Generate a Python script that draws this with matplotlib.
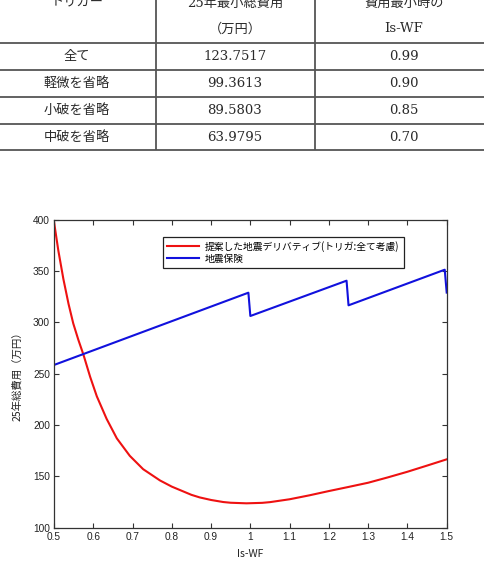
import matplotlib
matplotlib.use("Agg")
import matplotlib.pyplot as plt
from matplotlib.lines import Line2D

# ---------------- data ----------------
table_header = ["トリガー", "25年最小総費用\n（万円）", "費用最小時の\nIs-WF"]
table_triggers = ["全て", "軽微を省略", "小破を省略", "中破を省略"]
table_min_cost = ["123.7517", "99.3613", "89.5803", "63.9795"]
table_min_iswf = ["0.99", "0.90", "0.85", "0.70"]

deriv_x = [0.50, 0.511, 0.524, 0.537, 0.549, 0.562, 0.575, 0.592, 0.609, 0.634,
           0.66, 0.693, 0.727, 0.77, 0.80, 0.85, 0.871, 0.90, 0.931, 0.95,
           0.99, 1.03, 1.05, 1.075, 1.10, 1.15, 1.20, 1.25, 1.30, 1.35,
           1.40, 1.45, 1.50]
deriv_y = [398, 370, 342, 318, 299, 283, 268.5, 247, 228, 206,
           187, 170, 157, 146, 140, 132, 129.5, 127, 125, 124.3,
           123.75, 124.2, 124.9, 126.3, 127.7, 131.5, 135.7, 139.7, 143.8, 149,
           154.5, 160.5, 166.6]

ins_x = [0.50, 0.995, 1.0, 1.245, 1.25, 1.495, 1.50]
ins_y = [258.5, 328.9, 306.2, 340.6, 316.6, 351.3, 329.0]

series_labels = ["提案した地震デリバティブ(トリガ:全て考慮)", "地震保険"]
x_ticks = [0.5, 0.6, 0.7, 0.8, 0.9, 1.0, 1.1, 1.2, 1.3, 1.4, 1.5]
x_tick_labels = ["0.5", "0.6", "0.7", "0.8", "0.9", "1", "1.1", "1.2", "1.3", "1.4", "1.5"]
y_ticks = [100, 150, 200, 250, 300, 350, 400]

# ---------------- figure ----------------
W, H = 484, 565
fig = plt.figure(figsize=(W / 100, H / 100), dpi=100)
fig.patch.set_facecolor("white")

JP = ["Noto Sans CJK JP", "DejaVu Sans"]
TBL = ["DejaVu Serif", "Noto Sans CJK JP"]

# ---- table (in pixel-like figure coords) ----
tab = fig.add_axes([0, 0, 1, 1], zorder=0)
tab.set_xlim(0, W)
tab.set_ylim(H, 0)
tab.axis("off")

line_col = "#555555"
txt_col = "#2a2a2a"
for yy in [43, 70, 97, 124, 150]:
    tab.plot([0, W], [yy, yy], color=line_col, lw=1.3, solid_capstyle="butt")
for xx in [156, 315]:
    tab.plot([xx, xx], [-5, 150], color=line_col, lw=1.3, solid_capstyle="butt")

col_cx = [77, 235, 404]
# header (first line partially cut off at the top, as in the source)
tab.text(col_cx[0], 3, table_header[0], ha="center", va="center",
         fontsize=9.5, color=txt_col, family=TBL)
for ci in (1, 2):
    l1, l2 = table_header[ci].split("\n")
    tab.text(col_cx[ci], 3, l1, ha="center", va="center",
             fontsize=9.5, color=txt_col, family=TBL)
    tab.text(col_cx[ci], 29, l2, ha="center", va="center",
             fontsize=9.5, color=txt_col, family=TBL)

row_cy = [56.5, 83.5, 110.5, 137.5]
for r in range(4):
    tab.text(col_cx[0], row_cy[r], table_triggers[r], ha="center", va="center",
             fontsize=9.5, color=txt_col, family=TBL)
    tab.text(col_cx[1], row_cy[r], table_min_cost[r], ha="center", va="center",
             fontsize=9.5, color=txt_col, family=TBL)
    tab.text(col_cx[2], row_cy[r], table_min_iswf[r], ha="center", va="center",
             fontsize=9.5, color=txt_col, family=TBL)

# ---- chart ----
left, right, top, bottom = 54, 446.7, 219.7, 527.7
ax = fig.add_axes([left / W, 1 - bottom / H, (right - left) / W, (bottom - top) / H], zorder=1)

ax.plot(deriv_x, deriv_y, color="#ee1111", lw=1.5, label=series_labels[0])
ax.plot(ins_x, ins_y, color="#1111dd", lw=1.5, label=series_labels[1])

ax.set_xlim(0.5, 1.5)
ax.set_ylim(100, 400)
ax.set_xticks(x_ticks)
ax.set_xticklabels(x_tick_labels)
ax.set_yticks(y_ticks)

for sp in ax.spines.values():
    sp.set_color("#333333")
    sp.set_linewidth(0.9)

ax.tick_params(direction="in", length=3.5, width=0.8, color="#333333",
               top=True, right=True, labelsize=7.3, labelcolor="#222222", pad=3)
for lab in ax.get_xticklabels() + ax.get_yticklabels():
    lab.set_family("Liberation Sans")

ax.set_xlabel("Is-WF", fontsize=7.5, family=JP, color="#222222", labelpad=5)
ax.set_ylabel("25年総費用（万円）", fontsize=7.5, family=JP, color="#222222", labelpad=8)

handles = [Line2D([0], [0], color="#ee1111", lw=1.5),
           Line2D([0], [0], color="#1111dd", lw=1.5)]
leg = ax.legend(handles, series_labels, loc="upper left",
                bbox_to_anchor=((163 - left) / (right - left), (bottom - 236.7) / (bottom - top)),
                borderaxespad=0, fancybox=False, frameon=True, framealpha=1,
                edgecolor="#222222", prop={"family": JP, "size": 7.0},
                handlelength=3.3, handletextpad=0.6, borderpad=0.42, labelspacing=0.22)
leg.get_frame().set_linewidth(0.9)

fig.savefig("out.png", dpi=100, facecolor="white")
